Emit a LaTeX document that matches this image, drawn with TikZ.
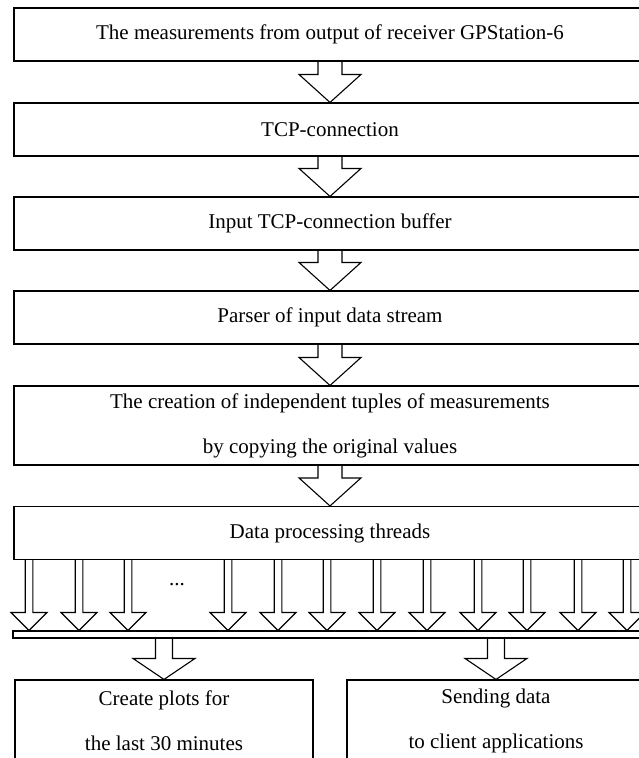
\documentclass[tikz,border=0pt]{standalone}
\usepackage{fontspec}
\setmainfont{Liberation Serif}
\usetikzlibrary{calc}

% hollow block arrow: source, tip, stem half width, head half width, head length
\newcommand{\blockarrow}[5]{%
  \draw[arrowline] ($(#1)+(-#3,0)$) -- ($(#2)+(-#3,-#5)$) -- ($(#2)+(-#4,-#5)$)
    -- (#2) -- ($(#2)+(#4,-#5)$) -- ($(#2)+(#3,-#5)$) -- ($(#1)+(#3,0)$);}

\begin{document}
\begin{tikzpicture}[x=1pt, y=-1pt,
  box/.style={draw, line width=1.1pt, align=center, inner sep=0pt,
    minimum width=632pt, minimum height=53pt, font=\fontsize{21}{45}\selectfont},
  arrowline/.style={line width=1.1pt, line join=miter}]
\useasboundingbox (0,0) rectangle (638,758);

% Bloki
\node[box] (gps) at (330,34.5) {The measurements from output of receiver GPStation-6};
\node[box] (tcp) at (330,129.5) {TCP-connection};
\node[box] (buf) at (330,223.5) {Input TCP-connection buffer};
\node[box] (parser) at (330,317.5) {Parser of input data stream};
\node[box, minimum height=79pt] (tuples) at (330,425.5)
  {The creation of independent tuples of measurements\\by copying the original values};
\node[box] (threads) at (330,533) {Data processing threads};
\node[draw, line width=1.1pt, inner sep=0pt, minimum width=633pt, minimum height=7pt] (bus) at (329.5,634.5) {};
\node[box, minimum width=298pt, minimum height=82pt] (plots) at (164,721)
  {Create plots for\\the last 30 minutes};
\node[box, minimum width=298pt, minimum height=82pt] (send) at (496,721)
  {Sending data\\to client applications};
\node[font=\fontsize{21}{25}\selectfont] (dots) at (177,585) {...};

% Strzalki
\blockarrow{gps.south}{tcp.north}{12}{31}{28}
\blockarrow{tcp.south}{buf.north}{12}{31}{28}
\blockarrow{buf.south}{parser.north}{12}{31}{28}
\blockarrow{parser.south}{tuples.north}{12}{31}{28}
\blockarrow{tuples.south}{threads.north}{12}{31}{28}
\foreach \x [count=\i] in {29,79,128,228,278,327,377,427,478,527,578,627} {
  \coordinate (tip\i) at (\x,630.5);
  \coordinate (src\i) at (tip\i |- threads.south);
  \blockarrow{src\i}{tip\i}{3.8}{18}{18}
}
\coordinate (bl) at (bus.south -| plots.north);
\coordinate (br) at (bus.south -| send.north);
\blockarrow{bl}{plots.north}{8.5}{31}{21}
\blockarrow{br}{send.north}{8.5}{31}{21}
\end{tikzpicture}
\end{document}
